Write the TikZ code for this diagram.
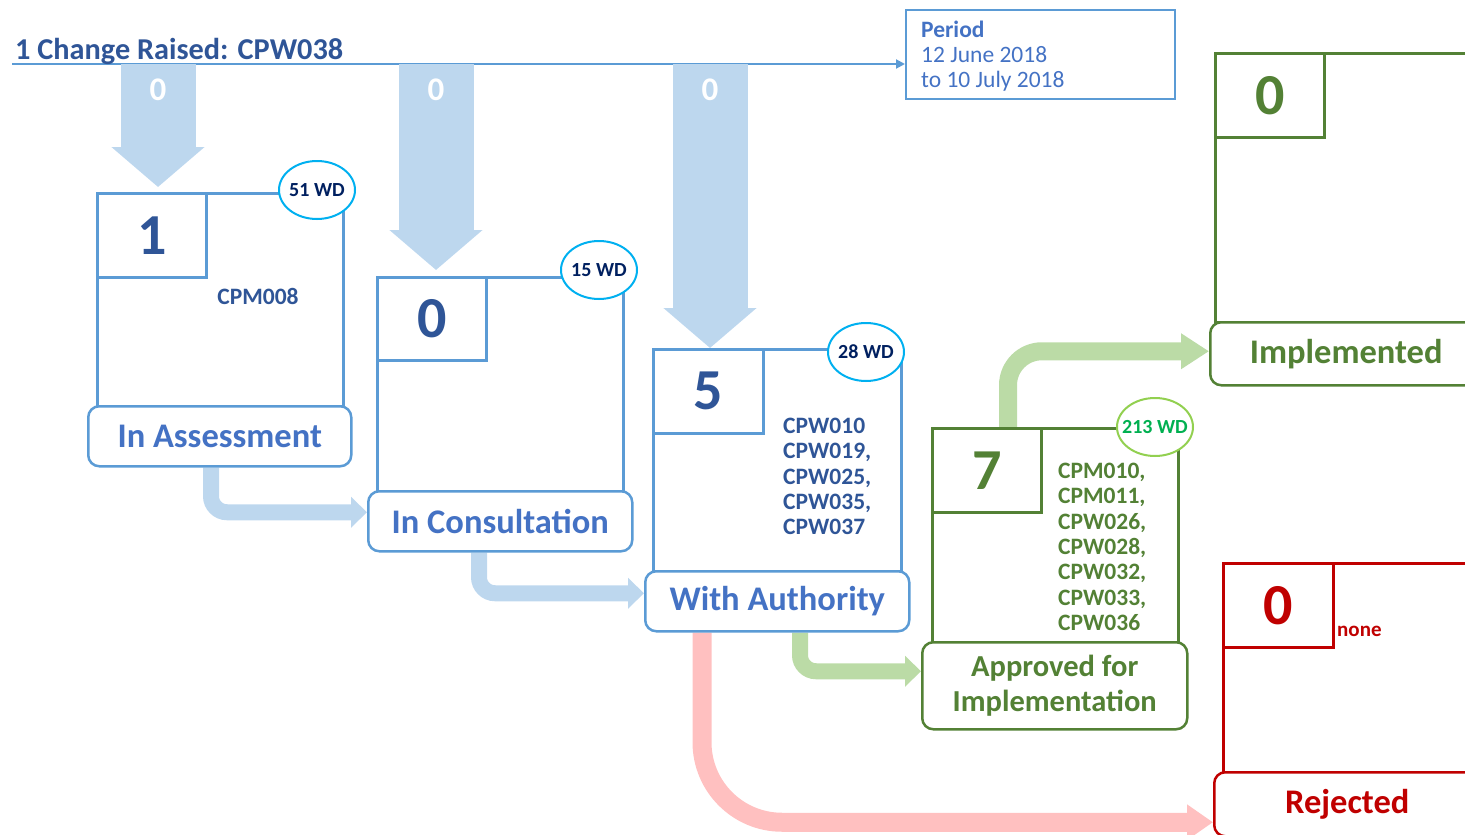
\documentclass[tikz,border=0pt]{standalone}
\usepackage{fontspec}
\setmainfont{Carlito}
\usetikzlibrary{arrows.meta,backgrounds,shapes.geometric,calc}
\definecolor{dblue}{HTML}{2F5597}
\definecolor{mblue}{HTML}{4472C4}
\definecolor{lblue}{HTML}{5B9BD5}
\definecolor{pblue}{HTML}{BDD7EE}
\definecolor{cyanc}{HTML}{00B0F0}
\definecolor{navy}{HTML}{002060}
\definecolor{dgreen}{HTML}{538135}
\definecolor{pgreen}{HTML}{BBDBA6}
\definecolor{lgreen}{HTML}{92D050}
\definecolor{bgreen}{HTML}{00B050}
\definecolor{dred}{HTML}{C00000}
\definecolor{pinkc}{HTML}{FFC0C0}
\tikzset{
  outerbox/.style={draw=#1, line width=2.5pt, fill=white, inner sep=0pt, anchor=north west},
  numbox/.style={draw=#1, line width=2.5pt, minimum width=109pt, minimum height=84pt, inner sep=0pt, anchor=north west, font=\bfseries\fontsize{58}{58}\selectfont},
  stagelabel/.style={draw=#1, line width=2.5pt, rounded corners=11pt, fill=white, inner sep=0pt, anchor=north west, align=center, font=\bfseries\fontsize{34.5}{35}\selectfont},
  wd/.style={ellipse, draw=#1, line width=2pt, fill=white, minimum width=76pt, minimum height=58pt, inner xsep=-12pt, inner ysep=0pt, font=\bfseries\fontsize{20}{20}\selectfont},
  codes/.style={anchor=north west, align=left, inner sep=0pt, font=\bfseries\fontsize{23.5}{25.3}\selectfont},
  bigdown/.style={draw=pblue, line width=75pt, -{Triangle[length=40pt,width=91pt]}},
  zero/.style={text=white, font=\bfseries\fontsize{33}{33}\selectfont, inner sep=0pt},
  fat/.style={draw=#1, line width=16pt, rounded corners=16pt, -{Triangle[length=16pt,width=30pt]}},
}
\begin{document}
\begin{tikzpicture}[x=1pt,y=-1pt]
\useasboundingbox (0,0) rectangle (1465,835);
\clip (0,0) rectangle (1465,835);

% title and timeline
\node[anchor=base west, inner sep=0pt, text=dblue, font=\bfseries\fontsize{30.3}{30}\selectfont] (title) at (15,59) {1 Change Raised: CPW038};
\coordinate (ls) at (12,64);
\node[draw=lblue, line width=1.5pt, minimum width=269pt, minimum height=89pt, anchor=north west, inner sep=0pt] (pb) at (905,9) {};
\node[anchor=north west, align=left, inner sep=0pt, text=mblue, font=\fontsize{23.5}{25}\selectfont] (pt) at (921,21) {\textbf{Period}\\12 June 2018\\to 10 July 2018};

% stage 1
\node[outerbox=lblue, minimum width=246pt, minimum height=213pt] (f1) at (96,192) {};
\node[numbox=lblue, text=dblue] (n1) at (96,192) {1};
\node[text=dblue, inner sep=0pt, font=\bfseries\fontsize{23.5}{23.5}\selectfont] (c1) at (258,296) {CPM008};
\node[stagelabel=lblue, minimum width=263pt, minimum height=60pt, text=mblue] (l1) at (87,405) {In Assessment};
\node[wd=cyanc, text=navy] (w1) at (317,190) {51 WD};

% stage 2
\node[outerbox=lblue, minimum width=246pt, minimum height=214pt] (f2) at (376,276) {};
\node[numbox=lblue, text=dblue, minimum height=83pt] (n2) at (376,276) {0};
\node[stagelabel=lblue, minimum width=264pt, minimum height=60pt, text=mblue] (l2) at (367,490) {In Consultation};
\node[wd=cyanc, text=navy] (w2) at (599,270) {15 WD};

% stage 3
\node[outerbox=lblue, minimum width=248pt, minimum height=222pt] (f3) at (652,348) {};
\node[numbox=lblue, text=dblue, minimum width=110pt] (n3) at (652,348) {5};
\node[codes, text=dblue] (c3) at (783,418) {CPW010\\CPW019,\\CPW025,\\CPW035,\\CPW037};
\node[stagelabel=lblue, minimum width=264pt, minimum height=60pt, text=mblue] (l3) at (644,570) {With Authority};
\node[wd=cyanc, text=navy] (w3) at (866,352) {28 WD};

% stage 4
\node[outerbox=dgreen, minimum width=246pt, minimum height=214pt] (f4) at (931,427) {};
\node[numbox=dgreen, text=dgreen] (n4) at (931,427) {7};
\node[codes, text=dgreen] (c4) at (1058,463) {CPM010,\\CPM011,\\CPW026,\\CPW028,\\CPW032,\\CPW033,\\CPW036};
\node[stagelabel=dgreen, minimum width=265pt, minimum height=87pt, text=dgreen, font=\bfseries\fontsize{30.5}{35}\selectfont] (l4) at (921,641) {Approved for\\Implementation};
\node[wd=lgreen, text=bgreen] (w4) at (1155,427) {213 WD};

% stage 5
\node[outerbox=dgreen, minimum width=266pt, minimum height=269pt] (f5) at (1214,52) {};
\node[numbox=dgreen, text=dgreen] (n5) at (1214,52) {0};
\node[stagelabel=dgreen, minimum width=272pt, minimum height=63pt, text=dgreen] (l5) at (1209,321) {Implemented};

% stage 6
\node[outerbox=dred, minimum width=258pt, minimum height=209pt] (f6) at (1222,562) {};
\node[numbox=dred, text=dred, minimum width=110pt] (n6) at (1222,562) {0};
\node[anchor=base west, inner sep=0pt, text=dred, font=\bfseries\fontsize{21}{21}\selectfont] (none) at (1337,636) {none};
\node[stagelabel=dred, minimum width=266pt, minimum height=64pt, text=dred] (l6) at (1213,771) {Rejected};

\begin{pgfonlayer}{background}
\draw[lblue, line width=2pt, -{Triangle[length=9pt,width=9pt]}] (ls) -- (pb.west |- ls);
\draw[bigdown] ($(f1.north west |- ls)+(62,0)$) -- node[zero, at start, yshift=-26pt] {0} ($(f1.north west)+(62,-5)$);
\draw[bigdown] ($(f2.north west |- ls)+(60,0)$) -- node[zero, at start, yshift=-26pt] {0} ($(f2.north west)+(60,-6)$);
\draw[bigdown] ($(f3.north west |- ls)+(58,0)$) -- node[zero, at start, yshift=-26pt] {0} ($(f3.north west)+(58,0)$);
\draw[fat=pblue] ($(l1.south west)+(124,0)$) |- ([yshift=9pt]l2.west);
\draw[fat=pblue] ($(l2.south west)+(112,0)$) |- ([yshift=8pt]l3.west);
\draw[fat=pgreen] ($(l3.south west)+(156,0)$) |- ([yshift=14.5pt]l4.west);
\draw[draw=pinkc, line width=19pt, rounded corners=80pt, -{Triangle[length=26pt,width=34pt]}] ($(l3.south west)+(58,0)$) |- ([yshift=-18pt]l6.west);
\draw[draw=pgreen, line width=18pt, rounded corners=34pt, -{Triangle[length=28pt,width=34pt]}] ($(f4.north west)+(77,0)$) |- ([yshift=2.5pt]l5.west);
\end{pgfonlayer}
\end{tikzpicture}
\end{document}
